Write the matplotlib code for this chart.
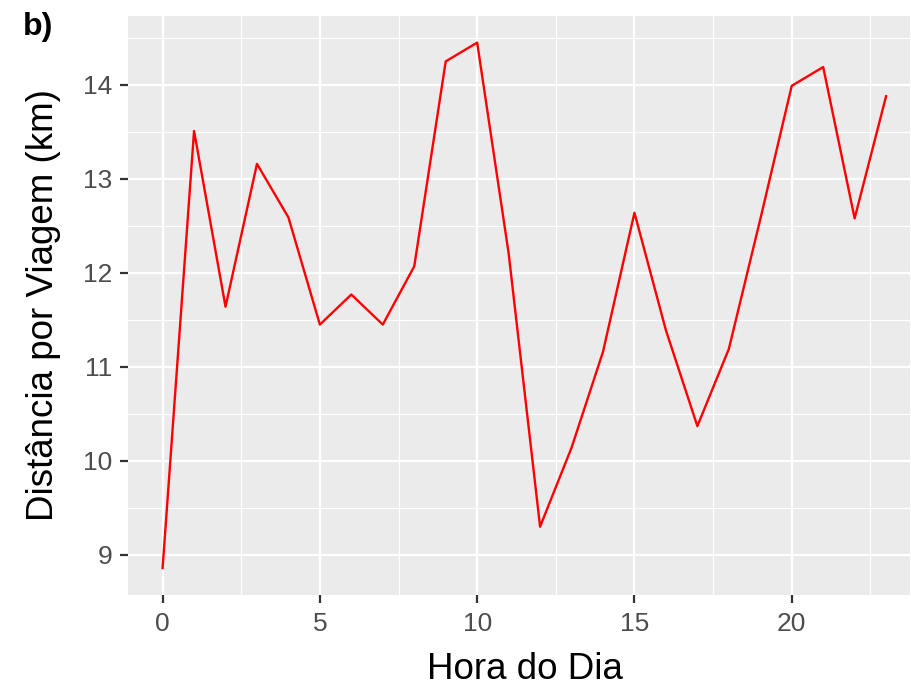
import matplotlib.pyplot as plt
from matplotlib.ticker import MultipleLocator

hours = list(range(24))
distance = [8.86, 13.51, 11.64, 13.16, 12.59, 11.45, 11.77, 11.45, 12.07, 14.25,
            14.45, 12.21, 9.30, 10.14, 11.16, 12.64, 11.39, 10.37, 11.19, 12.57,
            13.99, 14.19, 12.58, 13.88]

plt.rcParams['font.family'] = ['Liberation Sans', 'DejaVu Sans']

W, H = 911, 687
fig = plt.figure(figsize=(W / 100, H / 100), dpi=100)
ax = fig.add_axes([128 / W, (H - 595) / H, (910 - 128) / W, (595 - 16) / H])
ax.set_facecolor('#EBEBEB')

ax.plot(hours, distance, color='#FF0000', linewidth=1.7, zorder=3)

ax.set_xlim(-1.10, 23.76)
ax.set_ylim(8.573, 14.733)
ax.xaxis.set_major_locator(MultipleLocator(5))
ax.xaxis.set_minor_locator(MultipleLocator(2.5))
ax.yaxis.set_major_locator(MultipleLocator(1))
ax.yaxis.set_minor_locator(MultipleLocator(0.5))

ax.grid(which='major', color='white', linewidth=1.6)
ax.grid(which='minor', color='white', linewidth=0.8)
ax.set_axisbelow(True)
for s in ax.spines.values():
    s.set_visible(False)

ax.tick_params(which='major', length=6, width=1.6, color='#333333',
               labelcolor='#4D4D4D', labelsize=19)
ax.tick_params(axis='x', which='major', pad=6)
ax.tick_params(axis='y', which='major', pad=5)
ax.tick_params(which='minor', length=0)

# axis titles placed on their baselines
fig.text(524.5 / W, 1 - 679 / H, 'Hora do Dia', fontsize=26.5, color='black',
         ha='center', va='baseline')
fig.text(53 / W, 1 - 305 / H, 'Distância por Viagem (km)', fontsize=26.5,
         color='black', rotation=90, rotation_mode='anchor',
         ha='center', va='baseline')

fig.text(23 / W, 1 - 35 / H, 'b)', fontsize=23, fontweight='bold',
         color='black', va='baseline')

fig.savefig('out.png', dpi=100)
